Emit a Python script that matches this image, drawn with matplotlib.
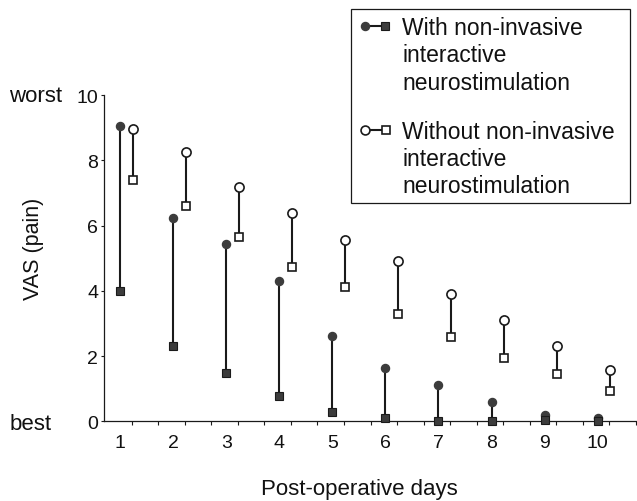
import matplotlib
matplotlib.use("Agg")
import matplotlib.pyplot as plt
from matplotlib.lines import Line2D
from matplotlib.patches import Rectangle

plt.rcParams['font.family'] = ['Liberation Sans', 'DejaVu Sans']

days = [1, 2, 3, 4, 5, 6, 7, 8, 9, 10]
with_top = [9.04, 6.22, 5.43, 4.29, 2.61, 1.62, 1.11, 0.60, 0.20, 0.10]
with_bottom = [4.00, 2.30, 1.49, 0.78, 0.27, 0.09, 0.0, 0.0, 0.05, 0.02]
without_top = [8.96, 8.24, 7.18, 6.37, 5.56, 4.90, 3.91, 3.09, 2.30, 1.56]
without_bottom = [7.41, 6.60, 5.66, 4.74, 4.13, 3.30, 2.58, 1.95, 1.44, 0.93]
y_ticks = [0, 2, 4, 6, 8, 10]
legend_with = ["With non-invasive", "interactive", "neurostimulation"]
legend_without = ["Without non-invasive", "interactive", "neurostimulation"]

W, H = 637, 502
fig = plt.figure(figsize=(W / 100, H / 100), dpi=100)
fig.patch.set_facecolor('white')

def fx(px):
    return px / W

def fy(py):
    return 1 - py / H

ax = fig.add_axes([fx(104.3), fy(422.3), fx(637) - fx(104.3), fy(96) - fy(422.3)])
ax.set_xlim(0.704, 10.74)
ax.set_ylim(0, 10)

dark = '#3c3c3c'
line_c = '#1a1a1a'
offset = 0.24
x_open = [d + offset for d in days]

# connecting lines
ax.vlines(days, with_bottom, with_top, color=line_c, lw=1.5, zorder=2, clip_on=False)
ax.vlines(x_open, without_bottom, without_top, color=line_c, lw=1.5, zorder=2, clip_on=False)

# filled markers
ax.plot(days, with_top, 'o', ms=5.8, mfc=dark, mec=dark, ls='none', zorder=3, clip_on=False)
ax.plot(days, with_bottom, 's', ms=5.4, mfc=dark, mec=line_c, mew=0.8, ls='none', zorder=3, clip_on=False)
# open markers
ax.plot(x_open, without_top, 'o', ms=6.6, mfc='white', mec=line_c, mew=1.2, ls='none', zorder=3, clip_on=False)
ax.plot(x_open, without_bottom, 's', ms=6.4, mfc='white', mec=line_c, mew=1.2, ls='none', zorder=3, clip_on=False)

# spines
for s in ['top', 'right']:
    ax.spines[s].set_visible(False)
for s in ['left', 'bottom']:
    ax.spines[s].set_linewidth(0.9)
    ax.spines[s].set_color(line_c)

ax.set_yticks(y_ticks)
ax.set_yticklabels([str(v) for v in y_ticks], fontsize=14)
ax.tick_params(axis='y', direction='out', length=2.5, width=0.8, pad=2, colors=line_c, labelcolor='#111111')

ax.set_xticks(days)
ax.set_xticklabels([str(d) for d in days], fontsize=14)
ax.tick_params(axis='x', which='major', length=0, pad=9, labelcolor='#111111')
minor = []
for d in days:
    minor += [d + 0.22, d + 0.72]
minor = [m for m in minor if m < 10.74]
ax.set_xticks(minor, minor=True)
ax.tick_params(axis='x', which='minor', direction='out', length=3, width=0.8, colors=line_c)

# axis labels
fig.text(fx(359), fy(495), "Post-operative days", ha='center', va='baseline', fontsize=16, color='#111111')
fig.text(fx(39), fy(249), "VAS (pain)", rotation=90, rotation_mode='anchor', ha='center', va='baseline',
         fontsize=15.5, color='#111111')
fig.text(fx(9.5), fy(101.7), "worst", ha='left', va='baseline', fontsize=16, color='#111111')
fig.text(fx(9.5), fy(430), "best", ha='left', va='baseline', fontsize=16, color='#111111')

# legend box
fig.add_artist(Rectangle((fx(350.5), fy(203.5)), fx(630) - fx(350.5), fy(10) - fy(203.5),
                         transform=fig.transFigure, fill=False, ec=line_c, lw=0.9))

# legend handles
fig.add_artist(Line2D([fx(365), fx(385)], [fy(27.3), fy(27.3)], transform=fig.transFigure,
                      color=line_c, lw=1.5))
fig.add_artist(Line2D([fx(365)], [fy(27.3)], transform=fig.transFigure, marker='o', ms=5.8,
                      mfc=dark, mec=dark, ls='none'))
fig.add_artist(Line2D([fx(385)], [fy(27.3)], transform=fig.transFigure, marker='s', ms=5.4,
                      mfc=dark, mec=line_c, mew=0.8, ls='none'))

fig.add_artist(Line2D([fx(365), fx(386)], [fy(130.5), fy(130.5)], transform=fig.transFigure,
                      color=line_c, lw=1.5))
fig.add_artist(Line2D([fx(365)], [fy(130.5)], transform=fig.transFigure, marker='o', ms=6.4,
                      mfc='white', mec=line_c, mew=1.2, ls='none'))
fig.add_artist(Line2D([fx(386)], [fy(130.5)], transform=fig.transFigure, marker='s', ms=6.2,
                      mfc='white', mec=line_c, mew=1.2, ls='none'))

for txt, base in zip(legend_with, [35, 62.5, 90]):
    fig.text(fx(402), fy(base), txt, ha='left', va='baseline', fontsize=16.5, color='#111111')
for txt, base in zip(legend_without, [139, 166, 193]):
    fig.text(fx(402), fy(base), txt, ha='left', va='baseline', fontsize=16.5, color='#111111')

fig.savefig("out.png", dpi=100, facecolor='white')
